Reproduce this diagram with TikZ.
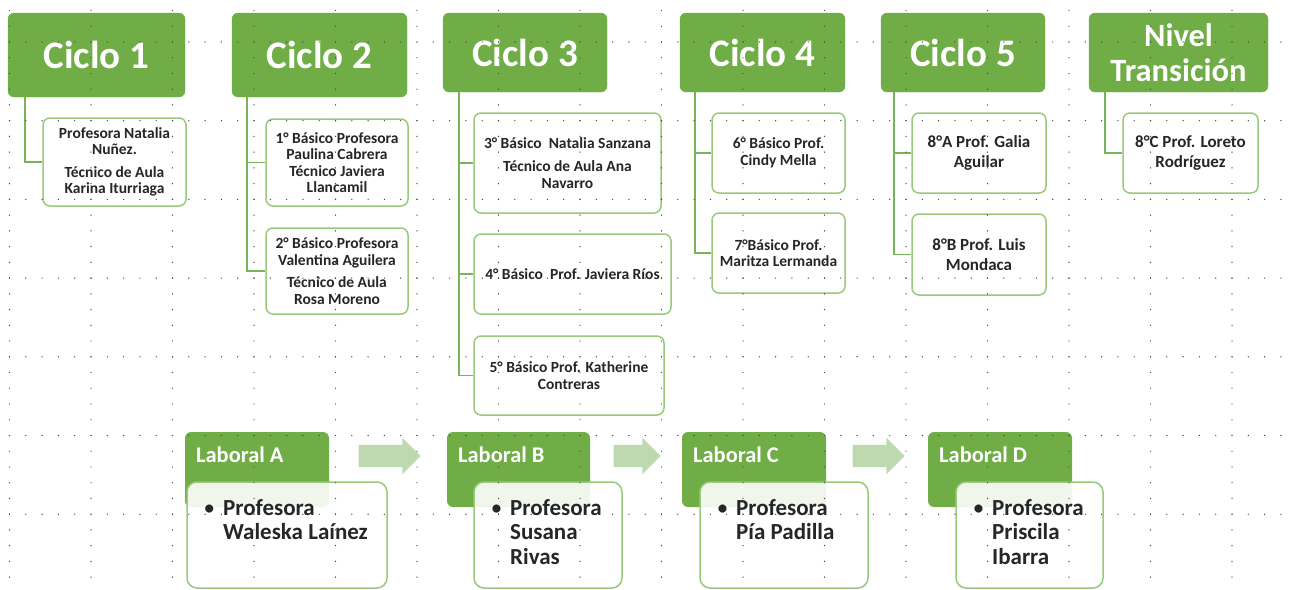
\documentclass[tikz,border=0pt]{standalone}
\usepackage{fontspec}
\setmainfont{Carlito}
\usetikzlibrary{shapes.arrows}

\definecolor{cicloGreen}{HTML}{70AD47}
\definecolor{boxEdge}{RGB}{152,202,122}
\definecolor{linkGreen}{RGB}{122,180,88}
\definecolor{arrowGreen}{RGB}{190,216,176}
\definecolor{dotGray}{RGB}{70,70,70}
\definecolor{nameInk}{RGB}{38,38,38}

\begin{document}
\begin{tikzpicture}[x=1pt,y=-1pt,
  ciclo/.style={fill=cicloGreen, draw=cicloGreen, rounded corners=6pt, text=white,
    inner sep=0pt, align=center, font={\fontsize{39}{40}\selectfont\bfseries}},
  kid/.style={fill=white, draw=boxEdge, line width=1.5pt, rounded corners=7pt,
    inner sep=0pt, align=center, text=nameInk, font={\fontsize{15.5}{16.5}\selectfont\bfseries}},
  bigkid/.style={kid, font={\fontsize{17}{20}\selectfont\bfseries}},
  link/.style={draw=linkGreen, line width=1.5pt},
  labhead/.style={fill=cicloGreen, rounded corners=6pt, inner sep=0pt, minimum height=75pt},
  labbody/.style={fill=white, fill opacity=0.9, draw=boxEdge, line width=1.5pt,
    rounded corners=10pt, inner sep=0pt, minimum height=106pt},
  labtitle/.style={anchor=base west, inner sep=0pt, text=white, font={\fontsize{22.4}{24}\selectfont\bfseries}},
  labtext/.style={anchor=north west, inner sep=0pt, align=left, text=nameInk,
    font={\fontsize{23}{24.5}\selectfont\bfseries}},
  flow/.style={single arrow, fill=arrowGreen, inner xsep=0pt, inner ysep=11pt, minimum width=36pt,
    single arrow head extend=7pt},
  dotrow/.style={draw=dotGray, line width=1.4pt, line cap=round, dash pattern=on 0pt off 16.3pt},
  dotcol/.style={draw=dotGray, line width=1.4pt, line cap=round, dash pattern=on 0pt off 15.74pt}]
\useasboundingbox (0,0) rectangle (1290,589);

% cycle headers
\node[ciclo, minimum width=177pt, minimum height=84pt] (c1) at (96.5,55) {Ciclo 1};
\node[ciclo, minimum width=175pt, minimum height=84pt] (c2) at (319.5,55) {Ciclo 2};
\node[ciclo, minimum width=164pt, minimum height=79pt] (c3) at (525,52.5) {Ciclo 3};
\node[ciclo, minimum width=165pt, minimum height=79pt] (c4) at (762.5,52.5) {Ciclo 4};
\node[ciclo, minimum width=164pt, minimum height=79pt] (c5) at (963,52.5) {Ciclo 5};
\node[ciclo, minimum width=179pt, minimum height=79pt,
  font={\fontsize{32.5}{35.5}\selectfont\bfseries}] (nt) at (1178.5,52.5) {Nivel\\Transición};

% teachers
\node[kid, minimum width=143pt, minimum height=88pt] (k1) at (114.5,162)
  {Profesora Natalia\\Nuñez.\\[6pt]Técnico de Aula\\Karina Iturriaga};
\node[kid, minimum width=142pt, minimum height=87pt] (k2a) at (337,162.5)
  {1° Básico Profesora\\Paulina Cabrera\\Técnico Javiera\\Llancamil};
\node[kid, minimum width=142pt, minimum height=86pt] (k2b) at (337,271)
  {2° Básico Profesora\\Valentina Aguilera\\[6pt]Técnico de Aula\\Rosa Moreno};
\node[kid, minimum width=187pt, minimum height=100pt] (k3a) at (567.5,163)
  {3° Básico\ \ Natalia Sanzana\\[7pt]Técnico de Aula Ana\\Navarro};
\node[kid, minimum width=197pt, minimum height=80pt] (k3b) at (572.5,274)
  {4° Básico\ \ Prof. Javiera Ríos};
\node[kid, minimum width=190pt, minimum height=79pt] (k3c) at (569,375.5)
  {5° Básico Prof. Katherine\\Contreras};
\node[kid, minimum width=133pt, minimum height=80pt] (k4a) at (778.5,153)
  {6° Básico Prof.\\Cindy Mella};
\node[kid, minimum width=133pt, minimum height=80pt] (k4b) at (778.5,253)
  {7°Básico Prof.\\Maritza Lermanda};
\node[bigkid, minimum width=134pt, minimum height=80pt] (k5a) at (979,153)
  {8°A Prof. Galia\\Aguilar};
\node[bigkid, minimum width=134pt, minimum height=81pt] (k5b) at (979,254.5)
  {8°B Prof. Luis\\Mondaca};
\node[bigkid, minimum width=135pt, minimum height=80pt] (knt) at (1190.5,153)
  {8°C Prof. Loreto\\Rodríguez};

\draw[link] ([xshift=17pt]c1.south west) |- (k1);
\draw[link] ([xshift=15pt]c2.south west) |- (k2a);
\draw[link] ([xshift=15pt]c2.south west) |- (k2b);
\draw[link] ([xshift=16pt]c3.south west) |- (k3a);
\draw[link] ([xshift=16pt]c3.south west) |- (k3b);
\draw[link] ([xshift=16pt]c3.south west) |- (k3c);
\draw[link] ([xshift=15pt]c4.south west) |- (k4a);
\draw[link] ([xshift=15pt]c4.south west) |- (k4b);
\draw[link] ([xshift=13pt]c5.south west) |- (k5a);
\draw[link] ([xshift=13pt]c5.south west) |- (k5b);
\draw[link] ([xshift=16pt]nt.south west) |- (knt);

% laboral row
\node[labhead, minimum width=144pt] (lA) at (257,469.5) {};
\node[labhead, minimum width=143pt] (lB) at (518.5,469.5) {};
\node[labhead, minimum width=144pt] (lC) at (754,469.5) {};
\node[labhead, minimum width=144pt] (lD) at (1000,469.5) {};
\node[labtitle] (tA) at (196,462) {Laboral A};
\node[labtitle] (tB) at (458,462) {Laboral B};
\node[labtitle] (tC) at (693,462) {Laboral C};
\node[labtitle] (tD) at (939,462) {Laboral D};
\node[labbody, minimum width=200pt] (wA) at (287,535) {};
\node[labbody, minimum width=148pt] (wB) at (548,535) {};
\node[labbody, minimum width=168pt] (wC) at (784,535) {};
\node[labbody, minimum width=147pt] (wD) at (1029.5,535) {};
\node[labtext] (pA) at (223,498) {\llap{\mdseries•\hspace{8pt}}\rule{0pt}{17pt}Profesora\\Waleska Laínez};
\node[labtext] (pB) at (510,498) {\llap{\mdseries•\hspace{8pt}}\rule{0pt}{17pt}Profesora\\Susana\\Rivas};
\node[labtext] (pC) at (736,498) {\llap{\mdseries•\hspace{8pt}}\rule{0pt}{17pt}Profesora\\Pía Padilla};
\node[labtext] (pD) at (992,498) {\llap{\mdseries•\hspace{8pt}}\rule{0pt}{17pt}Profesora\\Priscila\\Ibarra};
\node[flow, minimum height=62pt] (aAB) at (384,456) {};
\node[flow, minimum height=47pt] (aBC) at (631.5,456) {};
\node[flow, minimum height=52pt] (aCD) at (873,456) {};

% dotted grid on top
\foreach \r in {0,...,6}
  \draw[dotrow] (9.5,{42+78.7*\r}) -- (1290,{42+78.7*\r});
\foreach \c in {0,...,15}
  \draw[dotcol] ({9.5+81.5*\c},10.5) -- ({9.5+81.5*\c},589);
\end{tikzpicture}
\end{document}
